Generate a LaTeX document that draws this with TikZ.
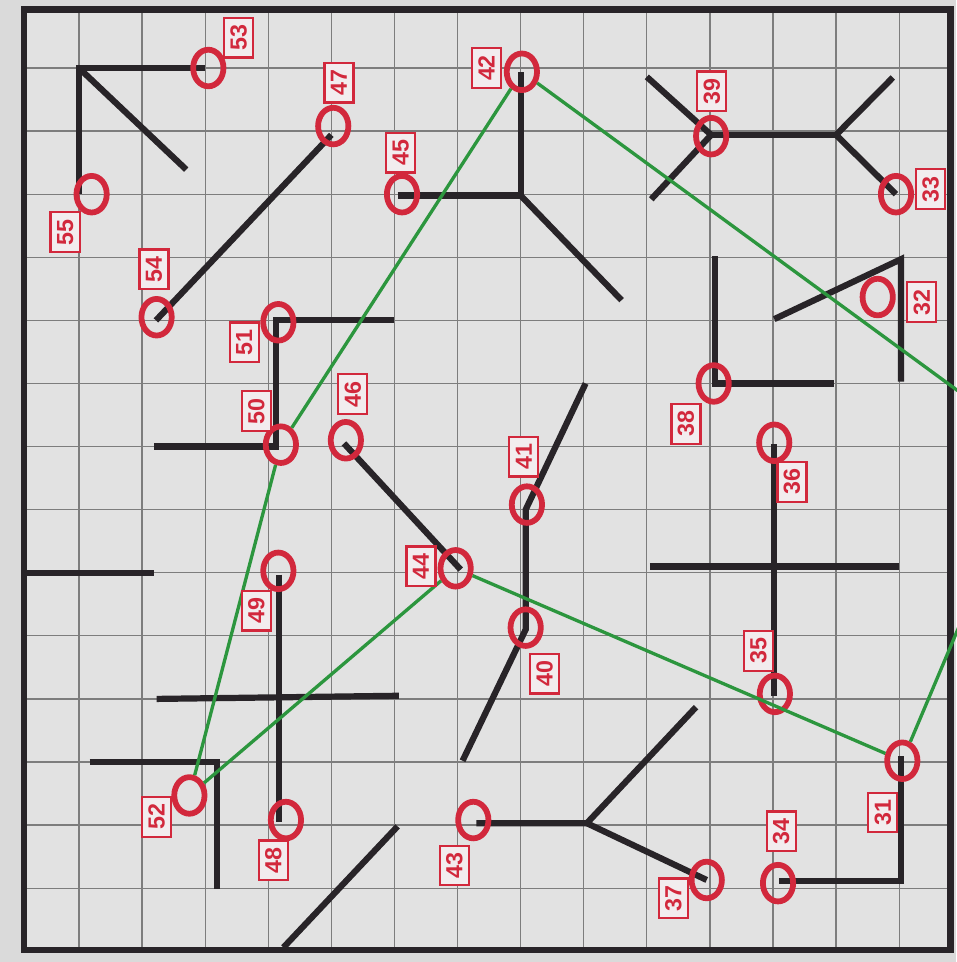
\documentclass[tikz,border=0pt]{standalone}
\usepackage{fontspec}
\setmainfont{Liberation Sans}
\usetikzlibrary{shapes.geometric}

\definecolor{paperGray}{RGB}{218,218,218}
\definecolor{boardGray}{RGB}{226,226,226}
\definecolor{gridGray}{RGB}{125,125,125}
\definecolor{wallBlack}{RGB}{40,36,40}
\definecolor{markRed}{RGB}{210,40,60}
\definecolor{tagFill}{RGB}{242,236,238}
\definecolor{routeGreen}{RGB}{44,150,62}

\tikzset{
    gridLine/.style={
        draw=gridGray, line width=0.55pt
    },
    wallLine/.style={
        draw=wallBlack, line width=2.8pt, line join=miter
    },
    frameLine/.style={
        draw=wallBlack, line width=3pt, line join=miter
    },
    ringMark/.style={
        ellipse, draw=markRed, line width=2.6pt,
        minimum width=0.48cm, minimum height=0.58cm, inner sep=0pt
    },
    tagBox/.style={
        rectangle, draw=markRed, line width=1pt, fill=tagFill,
        text=markRed, rotate=90, inner sep=0pt,
        minimum width=0.63cm, minimum height=0.46cm,
        font=\fontsize{10.5}{12}\selectfont\bfseries
    },
    routeLine/.style={
        draw=routeGreen, line width=1.5pt
    },
}

\begin{document}
\begin{tikzpicture}[x=1cm, y=1cm]

    % ----------------------------------------------------------
    % FONDO, CUADRICULA Y MARCO
    % ----------------------------------------------------------
    \useasboundingbox (-0.252,0.078) rectangle (14.903,-15.17);
    \fill[paperGray] (-0.252,0.078) rectangle (14.903,-15.17);
    \fill[boardGray] (0.13,-0.07) rectangle (14.81,-14.98);

    \foreach \i in {1,...,14}
        \draw[gridLine] (\i,-0.07) -- (\i,-14.98);
    \foreach \j in {1,...,14}
        \draw[gridLine] (0.13,-\j) -- (14.81,-\j);

    % ----------------------------------------------------------
    % PAREDES
    % ----------------------------------------------------------
    % arriba izquierda
    \draw[wallLine] (3.0,-1) -- (1,-1) -- (1,-3);
    \draw[wallLine] (1,-1) -- (2.7,-2.61);
    \draw[wallLine] (5.0,-2.06) -- (2.22,-5.0);
    \draw[wallLine] (6.05,-3.02) -- (8,-3.02) -- (8,-1.06);
    \draw[wallLine] (8,-3.02) -- (9.6,-4.68);
    \draw[wallLine] (6.0,-5.0) -- (4.12,-5.0) -- (4.12,-7.0) -- (2.19,-7.0);
    \draw[wallLine] (5.2,-6.95) -- (7.05,-8.95);

    % arriba derecha
    \draw[wallLine] (10,-1.14) -- (11.02,-2.06) -- (10.07,-3.08);
    \draw[wallLine] (11.02,-2.06) -- (13,-2.06);
    \draw[wallLine] (13.9,-1.15) -- (13,-2.06) -- (13.95,-3.0);
    \draw[wallLine] (11.08,-3.98) -- (11.08,-6.0) -- (12.97,-6.0);
    \draw[wallLine] (12.02,-4.98) -- (14.03,-4.03) -- (14.03,-5.97);

    % centro
    \draw[wallLine] (9.03,-6.0) -- (8.08,-8.0) -- (8.08,-9.9) -- (7.08,-11.98);
    \draw[wallLine] (12.02,-6.96) -- (12.02,-10.95);
    \draw[wallLine] (10.05,-8.9) -- (14.0,-8.9);

    % abajo izquierda
    \draw[wallLine] (0.13,-9.0) -- (2.19,-9.0);
    \draw[wallLine] (4.17,-9.03) -- (4.17,-12.95);
    \draw[wallLine] (2.23,-11.0) -- (6.07,-10.95);
    \draw[wallLine] (1.17,-12.0) -- (3.19,-12.0) -- (3.19,-14.02);
    \draw[wallLine] (4.24,-14.94) -- (6.05,-13.02);

    % abajo derecha
    \draw[wallLine] (7.3,-12.97) -- (9.05,-12.97) -- (10.78,-11.13);
    \draw[wallLine] (9.05,-12.97) -- (10.95,-13.87);
    \draw[wallLine] (12.1,-13.88) -- (14.03,-13.88) -- (14.03,-11.9);

    \draw[frameLine] (0.13,-0.07) rectangle (14.81,-14.98);

    % ----------------------------------------------------------
    % CIRCULOS
    % ----------------------------------------------------------
    \node[ringMark] at ( 3.05, -1.00) (ring53) {};
    \node[ringMark] at ( 1.20, -3.00) (ring55) {};
    \node[ringMark] at ( 5.03, -1.92) (ring47) {};
    \node[ringMark] at ( 2.23, -4.95) (ring54) {};
    \node[ringMark] at ( 6.12, -3.00) (ring45) {};
    \node[ringMark] at ( 8.02, -1.06) (ring42) {};
    \node[ringMark] at ( 4.16, -5.03) (ring51) {};
    \node[ringMark] at ( 4.20, -6.97) (ring50) {};
    \node[ringMark] at ( 5.23, -6.90) (ring46) {};
    \node[ringMark] at ( 6.97, -8.93) (ring44) {};
    \node[ringMark] at (11.02, -2.08) (ring39) {};
    \node[ringMark] at (13.95, -3.00) (ring33) {};
    \node[ringMark] at (13.66, -4.63) (ring32) {};
    \node[ringMark] at (11.06, -6.00) (ring38) {};
    \node[ringMark] at (12.02, -6.94) (ring36) {};
    \node[ringMark] at ( 8.10, -7.92) (ring41) {};
    \node[ringMark] at ( 8.08, -9.87) (ring40) {};
    \node[ringMark] at (12.03,-10.92) (ring35) {};
    \node[ringMark] at ( 4.16, -8.97) (ring49) {};
    \node[ringMark] at ( 4.28,-12.92) (ring48) {};
    \node[ringMark] at ( 2.75,-12.53) (ring52) {};
    \node[ringMark] at ( 7.25,-12.92) (ring43) {};
    \node[ringMark] at (10.95,-13.87) (ring37) {};
    \node[ringMark] at (12.08,-13.92) (ring34) {};
    \node[ringMark] at (14.05,-11.98) (ring31) {};

    % ----------------------------------------------------------
    % RECORRIDO VERDE
    % ----------------------------------------------------------
    \coordinate (edgeTop) at (14.95,-6.13);
    \coordinate (edgeLow) at (14.95,-9.85);
    \draw[routeLine] (edgeTop) -- (ring42) -- (ring50) -- (ring52)
        -- (ring44) -- (ring31) -- (edgeLow);

    % ----------------------------------------------------------
    % ETIQUETAS
    % ----------------------------------------------------------
    \node[tagBox] at ( 3.53, -0.52) (tag53) {53};
    \node[tagBox] at ( 0.78, -3.60) (tag55) {55};
    \node[tagBox] at ( 5.12, -1.23) (tag47) {47};
    \node[tagBox] at ( 6.10, -2.34) (tag45) {45};
    \node[tagBox] at ( 7.46, -1.00) (tag42) {42};
    \node[tagBox] at ( 2.19, -4.19) (tag54) {54};
    \node[tagBox] at ( 3.62, -5.35) (tag51) {51};
    \node[tagBox] at ( 3.81, -6.44) (tag50) {50};
    \node[tagBox] at ( 5.34, -6.17) (tag46) {46};
    \node[tagBox] at (11.03, -1.37) (tag39) {39};
    \node[tagBox] at (14.50, -2.92) (tag33) {33};
    \node[tagBox] at (14.36, -4.71) (tag32) {32};
    \node[tagBox] at (10.62, -6.64) (tag38) {38};
    \node[tagBox] at (12.30, -7.56) (tag36) {36};
    \node[tagBox] at ( 8.05, -7.16) (tag41) {41};
    \node[tagBox] at ( 8.38,-10.60) (tag40) {40};
    \node[tagBox] at ( 6.42, -8.90) (tag44) {44};
    \node[tagBox] at (11.77,-10.24) (tag35) {35};
    \node[tagBox] at ( 3.81, -9.60) (tag49) {49};
    \node[tagBox] at ( 4.08,-13.56) (tag48) {48};
    \node[tagBox] at ( 2.23,-12.87) (tag52) {52};
    \node[tagBox] at ( 6.95,-13.64) (tag43) {43};
    \node[tagBox] at (10.42,-14.16) (tag37) {37};
    \node[tagBox] at (12.13,-13.10) (tag34) {34};
    \node[tagBox] at (13.74,-12.80) (tag31) {31};

\end{tikzpicture}
\end{document}
